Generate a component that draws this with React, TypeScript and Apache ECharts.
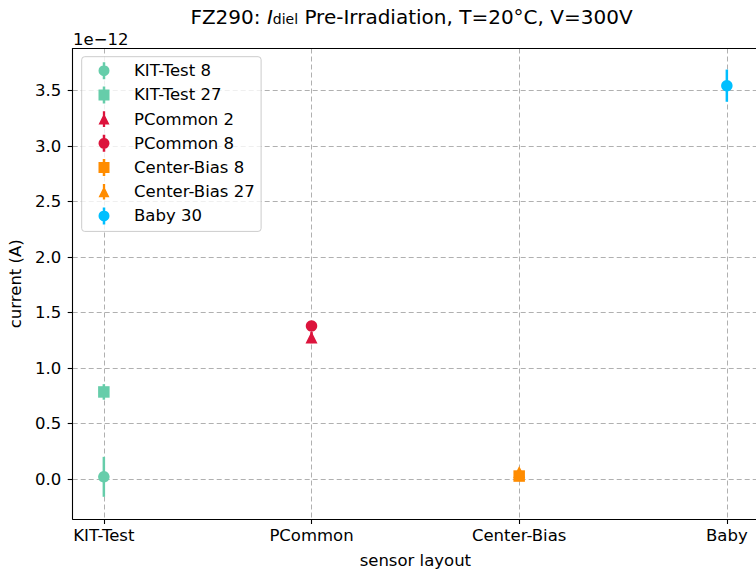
import React, { useEffect, useRef } from 'react';
import * as echarts from 'echarts';

const FONT = '"DejaVu Sans", "Noto Sans", sans-serif';

// Sensor layouts along the x axis
const layouts = ['KIT-Test', 'PCommon', 'Center-Bias', 'Baby'];
const layoutTicks = [0, 1, 2, 3];

// One entry per measured sensor
const sensorNames = ['KIT-Test 8', 'KIT-Test 27', 'PCommon 2', 'PCommon 8', 'Center-Bias 8', 'Center-Bias 27', 'Baby 30'];
const sensorLayoutIndex = [0, 0, 1, 1, 2, 2, 3];
// Dielectric current, in units of 1e-12 A
const currentMean = [0.02, 0.785, 1.275, 1.38, 0.027, 0.063, 3.545];
const currentErr = [0.18, 0.07, 0.05, 0.03, 0.02, 0.02, 0.145];
const sensorMarkers = ['circle', 'rect', 'triangle', 'circle', 'rect', 'triangle', 'circle'];
const sensorColors = ['#66cdaa', '#66cdaa', '#dc143c', '#dc143c', '#ff8c00', '#ff8c00', '#00bfff'];

const yTicks = [0, 0.5, 1.0, 1.5, 2.0, 2.5, 3.0, 3.5];

// Legend handles: marker with an error bar through it
const legendIcons: Record<string, string> = {
  circle: 'path://M4.25,0H6.75V17H4.25Z M0,8.5A5.5,5.5,0,1,1,11,8.5A5.5,5.5,0,1,1,0,8.5Z',
  rect: 'path://M4.25,0H6.75V17H4.25Z M0,3H11V14H0Z',
  triangle: 'path://M4.25,0H6.75V17H4.25Z M5.5,2.5L11.5,14.5H-0.5Z',
};

const symbolSizes: Record<string, number | number[]> = {
  circle: 11.5,
  rect: 11.5,
  triangle: [12, 12],
};

const LABEL_SIZE = 16.5;
const TITLE_SIZE = 20;

const gridLine = { show: true, lineStyle: { color: '#b0b0b0', width: 1, type: [5, 3] as number[] } };

function buildOption() {
  const scatterSeries = sensorNames.map((name, i) => ({
    type: 'scatter',
    name,
    data: [[sensorLayoutIndex[i], currentMean[i]]],
    symbol: sensorMarkers[i],
    symbolSize: symbolSizes[sensorMarkers[i]],
    itemStyle: { color: sensorColors[i], opacity: 1 },
    z: 3,
    silent: true,
  }));

  const errorSeries = sensorNames.map((name, i) => ({
    type: 'custom',
    name,
    data: [[sensorLayoutIndex[i], currentMean[i], currentErr[i]]],
    itemStyle: { color: sensorColors[i] },
    z: 2,
    silent: true,
    renderItem: (_params: any, api: any) => {
      const x = api.value(0);
      const y = api.value(1);
      const e = api.value(2);
      const top = api.coord([x, y + e]);
      const bot = api.coord([x, y - e]);
      return {
        type: 'line',
        shape: { x1: top[0], y1: top[1], x2: bot[0], y2: bot[1] },
        style: { stroke: sensorColors[i], lineWidth: 2.5 },
      };
    },
  }));

  return {
    animation: false,
    backgroundColor: '#ffffff',
    textStyle: { fontFamily: FONT },
    grid: { left: 72.7, top: 48.5, width: 685.3, height: 470.5, containLabel: false, outerBoundsMode: 'none' },
    legend: {
      orient: 'vertical',
      left: 81.7,
      top: 56.7,
      padding: [5.5, 6.4, 7, 16.8],
      itemWidth: 11,
      itemHeight: 17,
      itemGap: 7.2,
      backgroundColor: 'rgba(255,255,255,0.8)',
      borderColor: '#cccccc',
      borderWidth: 1,
      borderRadius: 3,
      selectedMode: false,
      itemStyle: { opacity: 1, borderWidth: 0 },
      textStyle: { fontFamily: FONT, fontSize: LABEL_SIZE, color: '#000', lineHeight: 17, padding: [0, 0, 0, 19.5] },
      data: sensorNames.map((name, i) => ({ name, icon: legendIcons[sensorMarkers[i]] })),
    },
    xAxis: [
      {
        type: 'value',
        min: -0.15,
        max: 3.15,
        position: 'bottom',
        name: 'sensor layout',
        nameLocation: 'middle',
        nameGap: 33,
        nameTextStyle: { fontFamily: FONT, fontSize: LABEL_SIZE, color: '#000' },
        axisLine: { show: true, onZero: false, lineStyle: { color: '#000', width: 1.1 } },
        axisTick: { show: true, inside: false, length: 5, customValues: layoutTicks, lineStyle: { color: '#000', width: 1.1 } },
        axisLabel: {
          show: true,
          customValues: layoutTicks,
          margin: 8,
          fontFamily: FONT,
          fontSize: LABEL_SIZE,
          color: '#000',
          formatter: (v: number) => layouts[Math.round(v)] ?? '',
        },
        splitLine: gridLine,
      },
      {
        type: 'value',
        min: -0.15,
        max: 3.15,
        position: 'top',
        axisLine: { show: true, onZero: false, lineStyle: { color: '#000', width: 1.1 } },
        axisTick: { show: false },
        axisLabel: { show: false },
        splitLine: { show: false },
      },
    ],
    yAxis: [
      {
        type: 'value',
        min: -0.36,
        max: 3.88,
        name: 'current (A)',
        nameLocation: 'middle',
        nameGap: 45,
        nameTextStyle: { fontFamily: FONT, fontSize: LABEL_SIZE, color: '#000' },
        axisLine: { show: true, onZero: false, lineStyle: { color: '#000', width: 1.1 } },
        axisTick: { show: true, inside: false, length: 5, customValues: yTicks, lineStyle: { color: '#000', width: 1.1 } },
        axisLabel: {
          show: true,
          customValues: yTicks,
          margin: 11.5,
          fontFamily: FONT,
          fontSize: LABEL_SIZE,
          color: '#000',
          formatter: (v: number) => v.toFixed(1),
        },
        splitLine: gridLine,
      },
    ],
    graphic: [
      {
        type: 'text',
        x: 411.5,
        y: 6.5,
        silent: true,
        style: {
          text: '{n|FZ290: }{i|I}{s|diel}{n| Pre-Irradiation, T=20°C, V=300V}',
          align: 'center',
          verticalAlign: 'top',
          fill: '#000',
          font: `${TITLE_SIZE}px ${FONT}`,
          rich: {
            n: { fontFamily: FONT, fontSize: TITLE_SIZE, lineHeight: 22, verticalAlign: 'top', fill: '#000' },
            i: { fontFamily: FONT, fontSize: TITLE_SIZE, fontStyle: 'italic', lineHeight: 22, verticalAlign: 'top', fill: '#000' },
            s: { fontFamily: FONT, fontSize: 14, lineHeight: 22, padding: [5, 0, 0, 0], verticalAlign: 'top', fill: '#000' },
          },
        },
      },
      {
        type: 'text',
        x: 73,
        y: 39,
        silent: true,
        style: {
          text: '1e\u221212',
          align: 'left',
          verticalAlign: 'middle',
          fill: '#000',
          font: `${LABEL_SIZE}px ${FONT}`,
        },
      },
    ],
    series: [...scatterSeries, ...errorSeries],
  };
}

export default function App() {
  const ref = useRef<HTMLDivElement>(null);
  useEffect(() => {
    if (!ref.current) return;
    const chart = echarts.init(ref.current, null, { renderer: 'svg' });
    chart.setOption(buildOption() as any);
    return () => chart.dispose();
  }, []);
  return (
    <div
      ref={ref}
      style={{ position: 'fixed', left: 0, top: 0, width: 756, height: 572, background: '#ffffff' }}
    />
  );
}
